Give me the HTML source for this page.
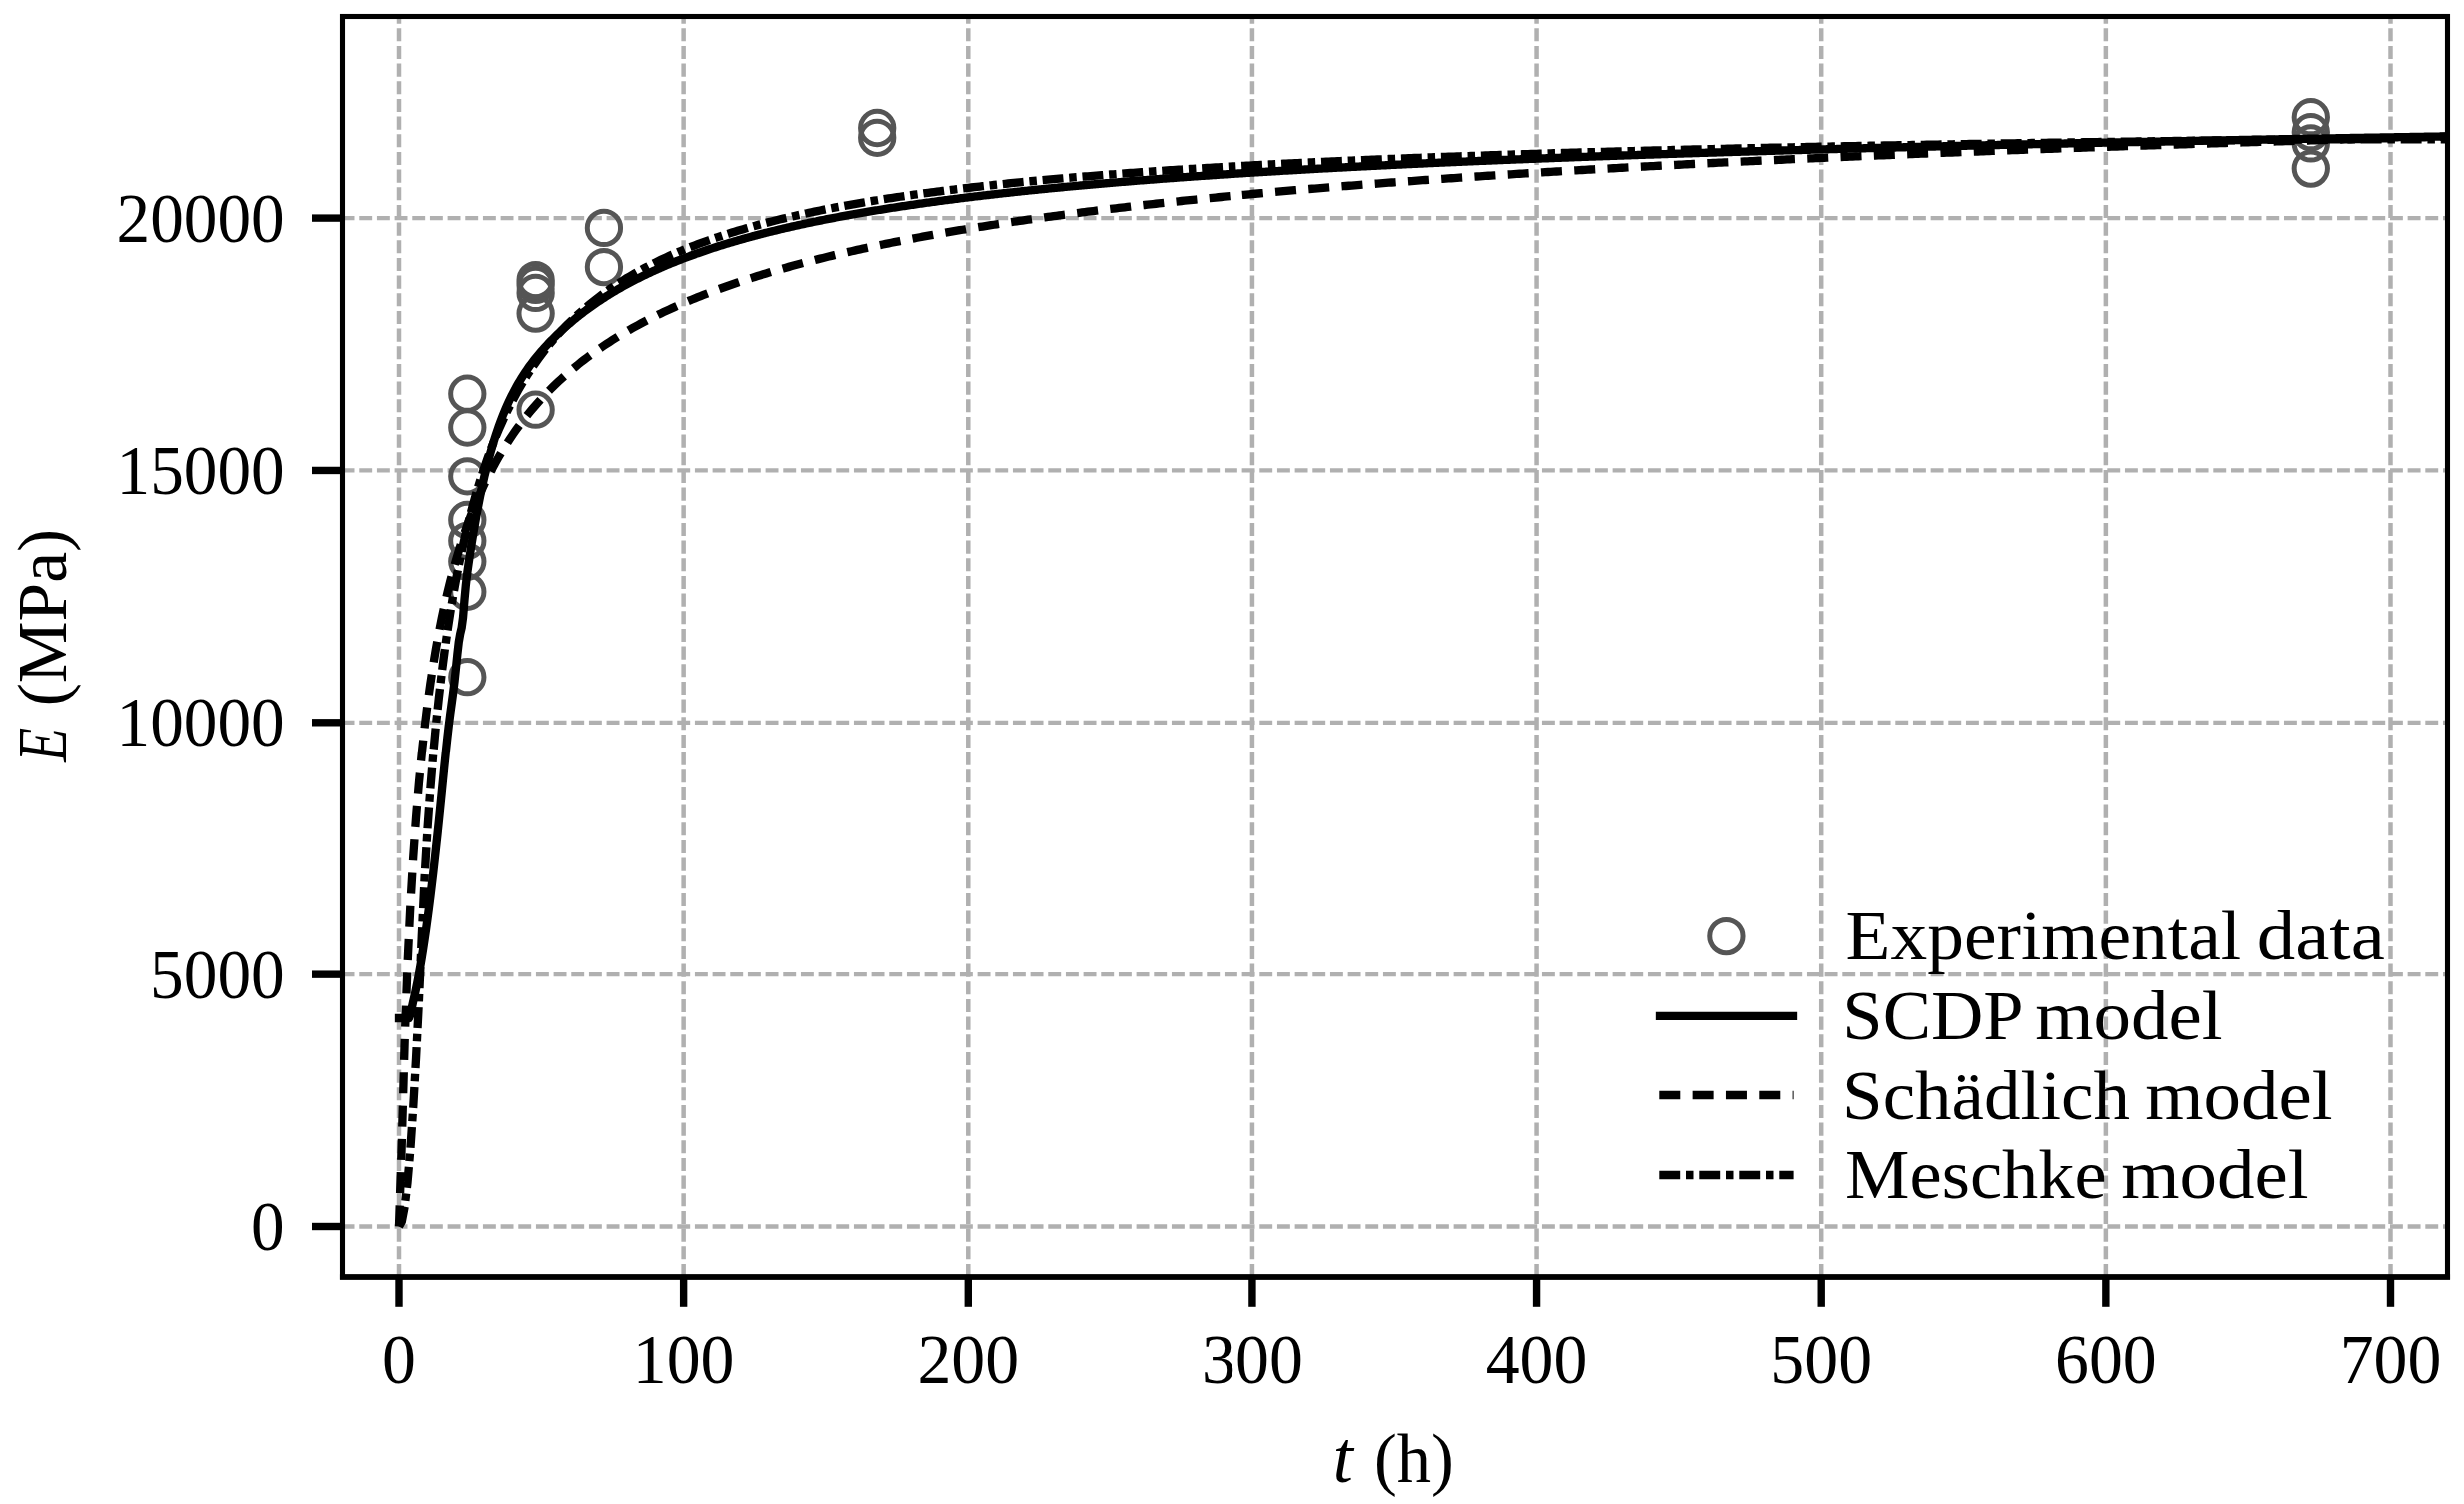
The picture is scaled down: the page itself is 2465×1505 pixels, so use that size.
<!DOCTYPE html>
<html><head><meta charset="utf-8"><title>E(t)</title>
<style>html,body{margin:0;padding:0;background:#fff}svg{display:block}text{font-family:"Liberation Serif",serif;fill:#000}</style></head><body>
<svg width="2465" height="1505" viewBox="0 0 2465 1505">
<rect width="2465" height="1505" fill="#fff"/>
<defs><clipPath id="ax"><rect x="342.5" y="16.5" width="2106.0" height="1261.5"/></clipPath></defs>
<g stroke="#b0b0b0" fill="none" clip-path="url(#ax)">
<path stroke-width="4.5" stroke-dasharray="13.1 4.567" d="M399.00 1278.0 V-3.5"/>
<path stroke-width="4.5" stroke-dasharray="13.1 4.567" d="M683.64 1278.0 V-3.5"/>
<path stroke-width="4.5" stroke-dasharray="13.1 4.567" d="M968.29 1278.0 V-3.5"/>
<path stroke-width="4.5" stroke-dasharray="13.1 4.567" d="M1252.93 1278.0 V-3.5"/>
<path stroke-width="4.5" stroke-dasharray="13.1 4.567" d="M1537.57 1278.0 V-3.5"/>
<path stroke-width="4.5" stroke-dasharray="13.1 4.567" d="M1822.21 1278.0 V-3.5"/>
<path stroke-width="4.5" stroke-dasharray="13.1 4.567" d="M2106.86 1278.0 V-3.5"/>
<path stroke-width="4.5" stroke-dasharray="13.1 4.567" d="M2391.50 1278.0 V-3.5"/>
<path stroke-width="4.3" stroke-dasharray="12.9 4.767" d="M341.6 1227.50 H2468.5"/>
<path stroke-width="4.3" stroke-dasharray="12.9 4.767" d="M341.6 975.15 H2468.5"/>
<path stroke-width="4.3" stroke-dasharray="12.9 4.767" d="M341.6 722.80 H2468.5"/>
<path stroke-width="4.3" stroke-dasharray="12.9 4.767" d="M341.6 470.45 H2468.5"/>
<path stroke-width="4.3" stroke-dasharray="12.9 4.767" d="M341.6 218.10 H2468.5"/>
</g>
<g stroke="#555555" stroke-width="5" fill="none" clip-path="url(#ax)">
<circle cx="467.31" cy="393.7" r="16.65"/>
<circle cx="467.31" cy="427.5" r="16.65"/>
<circle cx="467.31" cy="476.3" r="16.65"/>
<circle cx="467.31" cy="520.0" r="16.65"/>
<circle cx="467.31" cy="540.8" r="16.65"/>
<circle cx="467.31" cy="561.6" r="16.65"/>
<circle cx="467.31" cy="591.8" r="16.65"/>
<circle cx="467.31" cy="677.2" r="16.65"/>
<circle cx="535.63" cy="280.1" r="16.65"/>
<circle cx="535.63" cy="284.9" r="16.65"/>
<circle cx="535.63" cy="292.9" r="16.65"/>
<circle cx="535.63" cy="313.6" r="16.65"/>
<circle cx="535.63" cy="409.7" r="16.65"/>
<circle cx="603.94" cy="227.9" r="16.65"/>
<circle cx="603.94" cy="267.1" r="16.65"/>
<circle cx="877.20" cy="128.0" r="16.65"/>
<circle cx="877.20" cy="137.8" r="16.65"/>
<circle cx="2311.80" cy="117.2" r="16.65"/>
<circle cx="2311.80" cy="132.2" r="16.65"/>
<circle cx="2311.80" cy="143.4" r="16.65"/>
<circle cx="2311.80" cy="168.6" r="16.65"/>
</g>
<g stroke="#000" stroke-width="8.33" fill="none" clip-path="url(#ax)" stroke-linejoin="round">
<path id="c1" stroke-linecap="square" d="M399.00 1019.01 L400.42 1019.01 L401.85 1019.01 L403.27 1019.01 L404.69 1019.01 L406.12 1019.01 L407.54 1019.01 L408.96 1019.01 L410.39 1015.66 L411.81 1008.61 L413.23 1002.18 L414.66 995.83 L416.08 989.26 L417.50 982.30 L418.93 974.86 L420.35 966.94 L421.77 958.51 L423.19 949.59 L424.62 940.20 L426.04 930.35 L427.46 920.03 L428.89 909.24 L430.31 897.99 L431.73 886.30 L433.16 874.18 L434.58 861.65 L436.00 848.74 L437.43 835.47 L438.85 821.84 L440.27 807.90 L441.70 793.64 L443.12 779.21 L444.54 764.94 L445.97 751.11 L447.39 737.99 L448.81 725.77 L450.24 714.55 L451.66 704.11 L453.08 693.59 L454.51 681.99 L455.93 668.58 L457.35 654.55 L458.77 642.32 L460.20 633.98 L461.62 628.08 L463.04 617.67 L464.47 600.10 L465.89 584.68 L467.31 572.65 L468.74 562.54 L470.16 553.14 L471.58 544.04 L473.01 535.26 L474.43 526.80 L475.85 518.68 L477.28 510.87 L478.70 503.39 L480.12 496.21 L481.55 489.34 L482.97 482.75 L484.39 476.45 L485.82 470.43 L487.24 464.67 L488.66 459.17 L490.09 453.90 L491.51 448.87 L492.93 444.04 L494.36 439.42 L495.78 434.98 L497.20 430.73 L498.62 426.64 L500.05 422.72 L501.47 418.94 L502.89 415.31 L504.32 411.82 L505.74 408.45 L507.16 405.21 L508.59 402.08 L510.01 399.06 L511.43 396.14 L512.86 393.33 L514.28 390.60 L515.70 387.96 L517.13 385.41 L518.55 382.93 L519.97 380.53 L521.40 378.20 L522.82 375.94 L524.24 373.74 L525.67 371.61 L527.09 369.53 L528.51 367.50 L529.94 365.53 L531.36 363.60 L532.78 361.72 L534.21 359.88 L535.63 358.09 L537.05 356.33 L538.48 354.62 L539.90 352.93 L541.32 351.28 L542.74 349.66 L544.17 348.07 L545.59 346.51 L547.01 344.98 L548.44 343.47 L549.86 341.98 L551.28 340.52 L552.71 339.07 L554.13 337.65 L555.55 336.25 L556.98 334.86 L558.40 333.50 L559.82 332.15 L561.25 330.82 L562.67 329.51 L564.09 328.22 L565.52 326.95 L566.94 325.69 L568.36 324.45 L569.79 323.22 L571.21 322.01 L572.63 320.82 L574.06 319.64 L575.48 318.47 L576.90 317.32 L578.33 316.19 L579.75 315.06 L581.17 313.95 L582.59 312.86 L584.02 311.78 L585.44 310.71 L586.86 309.65 L588.29 308.61 L589.71 307.58 L591.13 306.56 L592.56 305.55 L593.98 304.55 L595.40 303.57 L596.83 302.59 L598.25 301.63 L599.67 300.68 L601.10 299.73 L602.52 298.80 L603.94 297.88 L605.37 296.97 L606.79 296.07 L608.21 295.18 L609.64 294.29 L611.06 293.42 L612.48 292.56 L613.91 291.70 L615.33 290.86 L616.75 290.02 L618.17 289.19 L619.60 288.37 L621.02 287.56 L622.44 286.75 L623.87 285.96 L625.29 285.17 L626.71 284.39 L628.14 283.62 L629.56 282.85 L630.98 282.10 L632.41 281.35 L633.83 280.60 L635.25 279.87 L636.68 279.14 L638.10 278.42 L639.52 277.70 L640.95 276.99 L642.37 276.29 L643.79 275.60 L645.22 274.91 L646.64 274.22 L648.06 273.55 L649.49 272.88 L650.91 272.21 L652.33 271.56 L653.76 270.90 L655.18 270.26 L656.60 269.62 L658.03 268.98 L659.45 268.35 L660.87 267.73 L662.29 267.11 L663.72 266.49 L665.14 265.89 L666.56 265.28 L667.99 264.69 L669.41 264.09 L670.83 263.50 L672.26 262.92 L673.68 262.34 L675.10 261.77 L676.53 261.20 L677.95 260.64 L679.37 260.08 L680.80 259.52 L682.22 258.97 L683.64 258.43 L685.07 257.89 L686.49 257.35 L687.91 256.82 L689.34 256.29 L690.76 255.76 L692.18 255.24 L693.61 254.72 L695.03 254.21 L696.45 253.70 L697.88 253.20 L699.30 252.70 L700.72 252.20 L702.14 251.71 L703.57 251.22 L704.99 250.73 L706.41 250.25 L707.84 249.77 L709.26 249.30 L710.68 248.83 L712.11 248.36 L713.53 247.89 L714.95 247.43 L716.38 246.97 L717.80 246.52 L719.22 246.07 L720.65 245.62 L722.07 245.18 L723.49 244.73 L724.92 244.30 L726.34 243.86 L727.76 243.43 L729.19 243.00 L730.61 242.57 L732.03 242.15 L733.46 241.73 L734.88 241.31 L736.30 240.90 L737.73 240.48 L739.15 240.08 L740.57 239.67 L741.99 239.27 L743.42 238.87 L744.84 238.47 L746.26 238.07 L747.69 237.68 L749.11 237.29 L750.53 236.90 L751.96 236.52 L753.38 236.13 L754.80 235.75 L756.23 235.38 L757.65 235.00 L759.07 234.63 L760.50 234.26 L761.92 233.89 L763.34 233.52 L764.77 233.16 L766.19 232.80 L767.61 232.44 L769.04 232.08 L770.46 231.73 L771.88 231.38 L773.31 231.03 L774.73 230.68 L776.15 230.34 L777.58 229.99 L779.00 229.65 L780.42 229.31 L781.84 228.97 L783.27 228.64 L784.69 228.31 L786.11 227.98 L787.54 227.65 L788.96 227.32 L790.38 226.99 L791.81 226.67 L793.23 226.35 L794.65 226.03 L796.08 225.71 L797.50 225.40 L798.92 225.08 L800.35 224.77 L801.77 224.46 L803.19 224.15 L804.62 223.85 L806.04 223.54 L807.46 223.24 L808.89 222.94 L810.31 222.64 L811.73 222.34 L813.16 222.04 L814.58 221.75 L816.00 221.46 L817.42 221.17 L818.85 220.88 L820.27 220.59 L821.69 220.30 L823.12 220.02 L824.54 219.73 L825.96 219.45 L827.39 219.17 L828.81 218.89 L830.23 218.62 L831.66 218.34 L833.08 218.07 L834.50 217.79 L835.93 217.52 L837.35 217.25 L838.77 216.98 L840.20 216.72 L841.62 216.45 L843.04 216.19 L844.47 215.93 L845.89 215.66 L847.31 215.40 L848.74 215.15 L850.16 214.89 L851.58 214.63 L853.01 214.38 L854.43 214.12 L855.85 213.87 L857.28 213.62 L858.70 213.37 L860.12 213.13 L861.54 212.88 L862.97 212.63 L864.39 212.39 L865.81 212.15 L867.24 211.90 L868.66 211.66 L870.08 211.42 L871.51 211.19 L872.93 210.95 L874.35 210.71 L875.78 210.48 L877.20 210.24 L878.62 210.01 L880.05 209.78 L881.47 209.55 L882.89 209.32 L884.32 209.09 L885.74 208.87 L887.16 208.64 L888.59 208.42 L890.01 208.19 L891.43 207.97 L892.86 207.75 L894.28 207.53 L895.70 207.31 L897.12 207.09 L898.55 206.88 L899.97 206.66 L901.39 206.44 L902.82 206.23 L904.24 206.02 L905.66 205.80 L907.09 205.59 L908.51 205.38 L909.93 205.17 L911.36 204.97 L912.78 204.76 L914.20 204.55 L915.63 204.35 L917.05 204.14 L918.47 203.94 L919.90 203.74 L921.32 203.54 L922.74 203.33 L924.17 203.13 L925.59 202.94 L927.01 202.74 L928.44 202.54 L929.86 202.34 L931.28 202.15 L932.71 201.95 L934.13 201.76 L935.55 201.57 L936.98 201.38 L938.40 201.19 L939.82 200.99 L941.24 200.81 L942.67 200.62 L944.09 200.43 L945.51 200.24 L946.94 200.06 L948.36 199.87 L949.78 199.69 L951.21 199.50 L952.63 199.32 L954.05 199.14 L955.48 198.96 L956.90 198.78 L958.32 198.60 L959.75 198.42 L961.17 198.24 L962.59 198.06 L964.02 197.88 L965.44 197.71 L966.86 197.53 L968.29 197.36 L969.71 197.18 L971.13 197.01 L972.56 196.84 L973.98 196.67 L975.40 196.49 L976.83 196.32 L978.25 196.15 L979.67 195.99 L981.09 195.82 L982.52 195.65 L983.94 195.48 L985.36 195.32 L986.79 195.15 L988.21 194.99 L989.63 194.82 L991.06 194.66 L992.48 194.50 L993.90 194.33 L995.33 194.17 L996.75 194.01 L998.17 193.85 L999.60 193.69 L1001.02 193.53 L1002.44 193.37 L1003.87 193.22 L1005.29 193.06 L1006.71 192.90 L1008.14 192.75 L1009.56 192.59 L1010.98 192.44 L1012.41 192.28 L1013.83 192.13 L1015.25 191.97 L1016.68 191.82 L1018.10 191.67 L1019.52 191.52 L1020.94 191.37 L1022.37 191.22 L1023.79 191.07 L1025.21 190.92 L1026.64 190.77 L1028.06 190.62 L1029.48 190.48 L1030.91 190.33 L1032.33 190.18 L1033.75 190.04 L1035.18 189.89 L1036.60 189.75 L1038.02 189.60 L1039.45 189.46 L1040.87 189.32 L1042.29 189.18 L1043.72 189.03 L1045.14 188.89 L1046.56 188.75 L1047.99 188.61 L1049.41 188.47 L1050.83 188.33 L1052.26 188.19 L1053.68 188.06 L1055.10 187.92 L1056.53 187.78 L1057.95 187.64 L1059.37 187.51 L1060.79 187.37 L1062.22 187.24 L1063.64 187.10 L1065.06 186.97 L1066.49 186.83 L1067.91 186.70 L1069.33 186.57 L1070.76 186.43 L1072.18 186.30 L1073.60 186.17 L1075.03 186.04 L1076.45 185.91 L1077.87 185.78 L1079.30 185.65 L1080.72 185.52 L1082.14 185.39 L1083.57 185.26 L1084.99 185.14 L1086.41 185.01 L1087.84 184.88 L1089.26 184.76 L1090.68 184.63 L1092.11 184.50 L1093.53 184.38 L1094.95 184.25 L1096.38 184.13 L1097.80 184.00 L1099.22 183.88 L1100.64 183.76 L1102.07 183.64 L1103.49 183.51 L1104.91 183.39 L1106.34 183.27 L1107.76 183.15 L1109.18 183.03 L1110.61 182.91 L1112.03 182.79 L1113.45 182.67 L1114.88 182.55 L1116.30 182.43 L1117.72 182.31 L1119.15 182.19 L1120.57 182.08 L1121.99 181.96 L1123.42 181.84 L1124.84 181.73 L1126.26 181.61 L1127.69 181.50 L1129.11 181.38 L1130.53 181.27 L1131.96 181.15 L1133.38 181.04 L1134.80 180.92 L1136.22 180.81 L1137.65 180.70 L1139.07 180.58 L1140.49 180.47 L1141.92 180.36 L1143.34 180.25 L1144.76 180.14 L1146.19 180.03 L1147.61 179.92 L1149.03 179.81 L1150.46 179.70 L1151.88 179.59 L1153.30 179.48 L1154.73 179.37 L1156.15 179.26 L1157.57 179.15 L1159.00 179.05 L1160.42 178.94 L1161.84 178.83 L1163.27 178.72 L1164.69 178.62 L1166.11 178.51 L1167.54 178.41 L1168.96 178.30 L1170.38 178.20 L1171.81 178.09 L1173.23 177.99 L1174.65 177.88 L1176.08 177.78 L1177.50 177.67 L1178.92 177.57 L1180.34 177.47 L1181.77 177.37 L1183.19 177.26 L1184.61 177.16 L1186.04 177.06 L1187.46 176.96 L1188.88 176.86 L1190.31 176.76 L1191.73 176.66 L1193.15 176.56 L1194.58 176.46 L1196.00 176.36 L1197.42 176.26 L1198.85 176.16 L1200.27 176.06 L1201.69 175.96 L1203.12 175.86 L1204.54 175.77 L1205.96 175.67 L1207.39 175.57 L1208.81 175.48 L1210.23 175.38 L1211.66 175.28 L1213.08 175.19 L1214.50 175.09 L1215.93 174.99 L1217.35 174.90 L1218.77 174.80 L1220.19 174.71 L1221.62 174.62 L1223.04 174.52 L1224.46 174.43 L1225.89 174.33 L1227.31 174.24 L1228.73 174.15 L1230.16 174.06 L1231.58 173.96 L1233.00 173.87 L1234.43 173.78 L1235.85 173.69 L1237.27 173.60 L1238.70 173.50 L1240.12 173.41 L1241.54 173.32 L1242.97 173.23 L1244.39 173.14 L1245.81 173.05 L1247.24 172.96 L1248.66 172.87 L1250.08 172.78 L1251.51 172.69 L1252.93 172.61 L1254.35 172.52 L1255.78 172.43 L1257.20 172.34 L1258.62 172.25 L1260.04 172.17 L1261.47 172.08 L1262.89 171.99 L1264.31 171.90 L1265.74 171.82 L1267.16 171.73 L1268.58 171.65 L1270.01 171.56 L1271.43 171.47 L1272.85 171.39 L1274.28 171.30 L1275.70 171.22 L1277.12 171.13 L1278.55 171.05 L1279.97 170.97 L1281.39 170.88 L1282.82 170.80 L1284.24 170.71 L1285.66 170.63 L1287.09 170.55 L1288.51 170.47 L1289.93 170.38 L1291.36 170.30 L1292.78 170.22 L1294.20 170.14 L1295.62 170.05 L1297.05 169.97 L1298.47 169.89 L1299.89 169.81 L1301.32 169.73 L1302.74 169.65 L1304.16 169.57 L1305.59 169.49 L1307.01 169.41 L1308.43 169.33 L1309.86 169.25 L1311.28 169.17 L1312.70 169.09 L1314.13 169.01 L1315.55 168.93 L1316.97 168.85 L1318.40 168.77 L1319.82 168.70 L1321.24 168.62 L1322.67 168.54 L1324.09 168.46 L1325.51 168.38 L1326.94 168.31 L1328.36 168.23 L1329.78 168.15 L1331.21 168.08 L1332.63 168.00 L1334.05 167.92 L1335.47 167.85 L1336.90 167.77 L1338.32 167.70 L1339.74 167.62 L1341.17 167.55 L1342.59 167.47 L1344.01 167.39 L1345.44 167.32 L1346.86 167.25 L1348.28 167.17 L1349.71 167.10 L1351.13 167.02 L1352.55 166.95 L1353.98 166.88 L1355.40 166.80 L1356.82 166.73 L1358.25 166.66 L1359.67 166.58 L1361.09 166.51 L1362.52 166.44 L1363.94 166.36 L1365.36 166.29 L1366.79 166.22 L1368.21 166.15 L1369.63 166.08 L1371.06 166.00 L1372.48 165.93 L1373.90 165.86 L1375.33 165.79 L1376.75 165.72 L1378.17 165.65 L1379.59 165.58 L1381.02 165.51 L1382.44 165.44 L1383.86 165.37 L1385.29 165.30 L1386.71 165.23 L1388.13 165.16 L1389.56 165.09 L1390.98 165.02 L1392.40 164.95 L1393.83 164.88 L1395.25 164.81 L1396.67 164.75 L1398.10 164.68 L1399.52 164.61 L1400.94 164.54 L1402.37 164.47 L1403.79 164.40 L1405.21 164.34 L1406.64 164.27 L1408.06 164.20 L1409.48 164.14 L1410.91 164.07 L1412.33 164.00 L1413.75 163.93 L1415.18 163.87 L1416.60 163.80 L1418.02 163.74 L1419.44 163.67 L1420.87 163.60 L1422.29 163.54 L1423.71 163.47 L1425.14 163.41 L1426.56 163.34 L1427.98 163.28 L1429.41 163.21 L1430.83 163.15 L1432.25 163.08 L1433.68 163.02 L1435.10 162.95 L1436.52 162.89 L1437.95 162.82 L1439.37 162.76 L1440.79 162.70 L1442.22 162.63 L1443.64 162.57 L1445.06 162.51 L1446.49 162.44 L1447.91 162.38 L1449.33 162.32 L1450.76 162.25 L1452.18 162.19 L1453.60 162.13 L1455.03 162.07 L1456.45 162.00 L1457.87 161.94 L1459.29 161.88 L1460.72 161.82 L1462.14 161.75 L1463.56 161.69 L1464.99 161.63 L1466.41 161.57 L1467.83 161.51 L1469.26 161.45 L1470.68 161.39 L1472.10 161.33 L1473.53 161.27 L1474.95 161.20 L1476.37 161.14 L1477.80 161.08 L1479.22 161.02 L1480.64 160.96 L1482.07 160.90 L1483.49 160.84 L1484.91 160.78 L1486.34 160.72 L1487.76 160.66 L1489.18 160.61 L1490.61 160.55 L1492.03 160.49 L1493.45 160.43 L1494.88 160.37 L1496.30 160.31 L1497.72 160.25 L1499.14 160.19 L1500.57 160.14 L1501.99 160.08 L1503.41 160.02 L1504.84 159.96 L1506.26 159.90 L1507.68 159.85 L1509.11 159.79 L1510.53 159.73 L1511.95 159.67 L1513.38 159.62 L1514.80 159.56 L1516.22 159.50 L1517.65 159.44 L1519.07 159.39 L1520.49 159.33 L1521.92 159.27 L1523.34 159.22 L1524.76 159.16 L1526.19 159.11 L1527.61 159.05 L1529.03 158.99 L1530.46 158.94 L1531.88 158.88 L1533.30 158.83 L1534.73 158.77 L1536.15 158.72 L1537.57 158.66 L1538.99 158.61 L1540.42 158.55 L1541.84 158.50 L1543.26 158.44 L1544.69 158.39 L1546.11 158.33 L1547.53 158.28 L1548.96 158.22 L1550.38 158.17 L1551.80 158.11 L1553.23 158.06 L1554.65 158.01 L1556.07 157.95 L1557.50 157.90 L1558.92 157.84 L1560.34 157.79 L1561.77 157.74 L1563.19 157.68 L1564.61 157.63 L1566.04 157.58 L1567.46 157.52 L1568.88 157.47 L1570.31 157.42 L1571.73 157.37 L1573.15 157.31 L1574.58 157.26 L1576.00 157.21 L1577.42 157.16 L1578.84 157.10 L1580.27 157.05 L1581.69 157.00 L1583.11 156.95 L1584.54 156.90 L1585.96 156.84 L1587.38 156.79 L1588.81 156.74 L1590.23 156.69 L1591.65 156.64 L1593.08 156.59 L1594.50 156.54 L1595.92 156.48 L1597.35 156.43 L1598.77 156.38 L1600.19 156.33 L1601.62 156.28 L1603.04 156.23 L1604.46 156.18 L1605.89 156.13 L1607.31 156.08 L1608.73 156.03 L1610.16 155.98 L1611.58 155.93 L1613.00 155.88 L1614.42 155.83 L1615.85 155.78 L1617.27 155.73 L1618.69 155.68 L1620.12 155.63 L1621.54 155.58 L1622.96 155.53 L1624.39 155.48 L1625.81 155.44 L1627.23 155.39 L1628.66 155.34 L1630.08 155.29 L1631.50 155.24 L1632.93 155.19 L1634.35 155.14 L1635.77 155.09 L1637.20 155.05 L1638.62 155.00 L1640.04 154.95 L1641.47 154.90 L1642.89 154.85 L1644.31 154.81 L1645.74 154.76 L1647.16 154.71 L1648.58 154.66 L1650.01 154.61 L1651.43 154.57 L1652.85 154.52 L1654.28 154.47 L1655.70 154.43 L1657.12 154.38 L1658.54 154.33 L1659.97 154.28 L1661.39 154.24 L1662.81 154.19 L1664.24 154.14 L1665.66 154.10 L1667.08 154.05 L1668.51 154.00 L1669.93 153.96 L1671.35 153.91 L1672.78 153.87 L1674.20 153.82 L1675.62 153.77 L1677.05 153.73 L1678.47 153.68 L1679.89 153.64 L1681.32 153.59 L1682.74 153.54 L1684.16 153.50 L1685.59 153.45 L1687.01 153.41 L1688.43 153.36 L1689.86 153.32 L1691.28 153.27 L1692.70 153.23 L1694.12 153.18 L1695.55 153.14 L1696.97 153.09 L1698.39 153.05 L1699.82 153.00 L1701.24 152.96 L1702.66 152.91 L1704.09 152.87 L1705.51 152.82 L1706.93 152.78 L1708.36 152.74 L1709.78 152.69 L1711.20 152.65 L1712.63 152.60 L1714.05 152.56 L1715.47 152.52 L1716.90 152.47 L1718.32 152.43 L1719.74 152.38 L1721.17 152.34 L1722.59 152.30 L1724.01 152.25 L1725.44 152.21 L1726.86 152.17 L1728.28 152.12 L1729.71 152.08 L1731.13 152.04 L1732.55 151.99 L1733.98 151.95 L1735.40 151.91 L1736.82 151.87 L1738.24 151.82 L1739.67 151.78 L1741.09 151.74 L1742.51 151.70 L1743.94 151.65 L1745.36 151.61 L1746.78 151.57 L1748.21 151.53 L1749.63 151.48 L1751.05 151.44 L1752.48 151.40 L1753.90 151.36 L1755.32 151.32 L1756.75 151.27 L1758.17 151.23 L1759.59 151.19 L1761.02 151.15 L1762.44 151.11 L1763.86 151.07 L1765.29 151.02 L1766.71 150.98 L1768.13 150.94 L1769.56 150.90 L1770.98 150.86 L1772.40 150.82 L1773.83 150.78 L1775.25 150.74 L1776.67 150.70 L1778.09 150.66 L1779.52 150.61 L1780.94 150.57 L1782.36 150.53 L1783.79 150.49 L1785.21 150.45 L1786.63 150.41 L1788.06 150.37 L1789.48 150.33 L1790.90 150.29 L1792.33 150.25 L1793.75 150.21 L1795.17 150.17 L1796.60 150.13 L1798.02 150.09 L1799.44 150.05 L1800.87 150.01 L1802.29 149.97 L1803.71 149.93 L1805.14 149.89 L1806.56 149.85 L1807.98 149.81 L1809.41 149.77 L1810.83 149.73 L1812.25 149.69 L1813.67 149.66 L1815.10 149.62 L1816.52 149.58 L1817.94 149.54 L1819.37 149.50 L1820.79 149.46 L1822.21 149.42 L1823.64 149.38 L1825.06 149.34 L1826.48 149.30 L1827.91 149.27 L1829.33 149.23 L1830.75 149.19 L1832.18 149.15 L1833.60 149.11 L1835.02 149.07 L1836.45 149.04 L1837.87 149.00 L1839.29 148.96 L1840.72 148.92 L1842.14 148.88 L1843.56 148.85 L1844.99 148.81 L1846.41 148.77 L1847.83 148.73 L1849.26 148.69 L1850.68 148.66 L1852.10 148.62 L1853.53 148.58 L1854.95 148.54 L1856.37 148.51 L1857.79 148.47 L1859.22 148.43 L1860.64 148.39 L1862.06 148.36 L1863.49 148.32 L1864.91 148.28 L1866.33 148.24 L1867.76 148.21 L1869.18 148.17 L1870.60 148.13 L1872.03 148.10 L1873.45 148.06 L1874.87 148.02 L1876.30 147.99 L1877.72 147.95 L1879.14 147.91 L1880.57 147.88 L1881.99 147.84 L1883.41 147.80 L1884.84 147.77 L1886.26 147.73 L1887.68 147.69 L1889.11 147.66 L1890.53 147.62 L1891.95 147.59 L1893.38 147.55 L1894.80 147.51 L1896.22 147.48 L1897.64 147.44 L1899.07 147.41 L1900.49 147.37 L1901.91 147.33 L1903.34 147.30 L1904.76 147.26 L1906.18 147.23 L1907.61 147.19 L1909.03 147.16 L1910.45 147.12 L1911.88 147.09 L1913.30 147.05 L1914.72 147.01 L1916.15 146.98 L1917.57 146.94 L1918.99 146.91 L1920.42 146.87 L1921.84 146.84 L1923.26 146.80 L1924.69 146.77 L1926.11 146.73 L1927.53 146.70 L1928.96 146.66 L1930.38 146.63 L1931.80 146.59 L1933.23 146.56 L1934.65 146.53 L1936.07 146.49 L1937.49 146.46 L1938.92 146.42 L1940.34 146.39 L1941.76 146.35 L1943.19 146.32 L1944.61 146.28 L1946.03 146.25 L1947.46 146.22 L1948.88 146.18 L1950.30 146.15 L1951.73 146.11 L1953.15 146.08 L1954.57 146.05 L1956.00 146.01 L1957.42 145.98 L1958.84 145.94 L1960.27 145.91 L1961.69 145.88 L1963.11 145.84 L1964.54 145.81 L1965.96 145.78 L1967.38 145.74 L1968.81 145.71 L1970.23 145.67 L1971.65 145.64 L1973.08 145.61 L1974.50 145.57 L1975.92 145.54 L1977.34 145.51 L1978.77 145.47 L1980.19 145.44 L1981.61 145.41 L1983.04 145.38 L1984.46 145.34 L1985.88 145.31 L1987.31 145.28 L1988.73 145.24 L1990.15 145.21 L1991.58 145.18 L1993.00 145.15 L1994.42 145.11 L1995.85 145.08 L1997.27 145.05 L1998.69 145.01 L2000.12 144.98 L2001.54 144.95 L2002.96 144.92 L2004.39 144.88 L2005.81 144.85 L2007.23 144.82 L2008.66 144.79 L2010.08 144.76 L2011.50 144.72 L2012.92 144.69 L2014.35 144.66 L2015.77 144.63 L2017.19 144.59 L2018.62 144.56 L2020.04 144.53 L2021.46 144.50 L2022.89 144.47 L2024.31 144.43 L2025.73 144.40 L2027.16 144.37 L2028.58 144.34 L2030.00 144.31 L2031.43 144.28 L2032.85 144.24 L2034.27 144.21 L2035.70 144.18 L2037.12 144.15 L2038.54 144.12 L2039.97 144.09 L2041.39 144.06 L2042.81 144.02 L2044.24 143.99 L2045.66 143.96 L2047.08 143.93 L2048.51 143.90 L2049.93 143.87 L2051.35 143.84 L2052.78 143.81 L2054.20 143.78 L2055.62 143.74 L2057.04 143.71 L2058.47 143.68 L2059.89 143.65 L2061.31 143.62 L2062.74 143.59 L2064.16 143.56 L2065.58 143.53 L2067.01 143.50 L2068.43 143.47 L2069.85 143.44 L2071.28 143.41 L2072.70 143.38 L2074.12 143.35 L2075.55 143.32 L2076.97 143.28 L2078.39 143.25 L2079.82 143.22 L2081.24 143.19 L2082.66 143.16 L2084.09 143.13 L2085.51 143.10 L2086.93 143.07 L2088.36 143.04 L2089.78 143.01 L2091.20 142.98 L2092.62 142.95 L2094.05 142.92 L2095.47 142.89 L2096.89 142.86 L2098.32 142.83 L2099.74 142.80 L2101.16 142.77 L2102.59 142.74 L2104.01 142.71 L2105.43 142.68 L2106.86 142.66 L2108.28 142.63 L2109.70 142.60 L2111.13 142.57 L2112.55 142.54 L2113.97 142.51 L2115.40 142.48 L2116.82 142.45 L2118.24 142.42 L2119.67 142.39 L2121.09 142.36 L2122.51 142.33 L2123.94 142.30 L2125.36 142.27 L2126.78 142.24 L2128.21 142.22 L2129.63 142.19 L2131.05 142.16 L2132.48 142.13 L2133.90 142.10 L2135.32 142.07 L2136.74 142.04 L2138.17 142.01 L2139.59 141.98 L2141.01 141.95 L2142.44 141.93 L2143.86 141.90 L2145.28 141.87 L2146.71 141.84 L2148.13 141.81 L2149.55 141.78 L2150.98 141.75 L2152.40 141.73 L2153.82 141.70 L2155.25 141.67 L2156.67 141.64 L2158.09 141.61 L2159.52 141.58 L2160.94 141.56 L2162.36 141.53 L2163.79 141.50 L2165.21 141.47 L2166.63 141.44 L2168.06 141.41 L2169.48 141.39 L2170.90 141.36 L2172.32 141.33 L2173.75 141.30 L2175.17 141.27 L2176.59 141.25 L2178.02 141.22 L2179.44 141.19 L2180.86 141.16 L2182.29 141.13 L2183.71 141.11 L2185.13 141.08 L2186.56 141.05 L2187.98 141.02 L2189.40 141.00 L2190.83 140.97 L2192.25 140.94 L2193.67 140.91 L2195.10 140.88 L2196.52 140.86 L2197.94 140.83 L2199.37 140.80 L2200.79 140.77 L2202.21 140.75 L2203.64 140.72 L2205.06 140.69 L2206.48 140.67 L2207.91 140.64 L2209.33 140.61 L2210.75 140.58 L2212.18 140.56 L2213.60 140.53 L2215.02 140.50 L2216.44 140.47 L2217.87 140.45 L2219.29 140.42 L2220.71 140.39 L2222.14 140.37 L2223.56 140.34 L2224.98 140.31 L2226.41 140.29 L2227.83 140.26 L2229.25 140.23 L2230.68 140.21 L2232.10 140.18 L2233.52 140.15 L2234.95 140.13 L2236.37 140.10 L2237.79 140.07 L2239.22 140.05 L2240.64 140.02 L2242.06 139.99 L2243.49 139.97 L2244.91 139.94 L2246.33 139.91 L2247.76 139.89 L2249.18 139.86 L2250.60 139.83 L2252.03 139.81 L2253.45 139.78 L2254.87 139.75 L2256.29 139.73 L2257.72 139.70 L2259.14 139.68 L2260.56 139.65 L2261.99 139.62 L2263.41 139.60 L2264.83 139.57 L2266.26 139.54 L2267.68 139.52 L2269.10 139.49 L2270.53 139.47 L2271.95 139.44 L2273.37 139.41 L2274.80 139.39 L2276.22 139.36 L2277.64 139.34 L2279.07 139.31 L2280.49 139.28 L2281.91 139.26 L2283.34 139.23 L2284.76 139.21 L2286.18 139.18 L2287.61 139.16 L2289.03 139.13 L2290.45 139.10 L2291.88 139.08 L2293.30 139.05 L2294.72 139.03 L2296.14 139.00 L2297.57 138.98 L2298.99 138.95 L2300.41 138.93 L2301.84 138.90 L2303.26 138.87 L2304.68 138.85 L2306.11 138.82 L2307.53 138.80 L2308.95 138.77 L2310.38 138.75 L2311.80 138.72 L2313.22 138.70 L2314.65 138.67 L2316.07 138.65 L2317.49 138.62 L2318.92 138.60 L2320.34 138.57 L2321.76 138.55 L2323.19 138.52 L2324.61 138.50 L2326.03 138.47 L2327.46 138.45 L2328.88 138.42 L2330.30 138.40 L2331.73 138.37 L2333.15 138.35 L2334.57 138.32 L2335.99 138.30 L2337.42 138.27 L2338.84 138.25 L2340.26 138.22 L2341.69 138.20 L2343.11 138.17 L2344.53 138.15 L2345.96 138.12 L2347.38 138.10 L2348.80 138.08 L2350.23 138.05 L2351.65 138.03 L2353.07 138.00 L2354.50 137.98 L2355.92 137.95 L2357.34 137.93 L2358.77 137.90 L2360.19 137.88 L2361.61 137.85 L2363.04 137.83 L2364.46 137.81 L2365.88 137.78 L2367.31 137.76 L2368.73 137.73 L2370.15 137.71 L2371.57 137.68 L2373.00 137.66 L2374.42 137.64 L2375.84 137.61 L2377.27 137.59 L2378.69 137.56 L2380.11 137.54 L2381.54 137.52 L2382.96 137.49 L2384.38 137.47 L2385.81 137.44 L2387.23 137.42 L2388.65 137.40 L2390.08 137.37 L2391.50 137.35 L2392.92 137.32 L2394.35 137.30 L2395.77 137.28 L2397.19 137.25 L2398.62 137.23 L2400.04 137.21 L2401.46 137.18 L2402.89 137.16 L2404.31 137.13 L2405.73 137.11 L2407.16 137.09 L2408.58 137.06 L2410.00 137.04 L2411.43 137.02 L2412.85 136.99 L2414.27 136.97 L2415.69 136.95 L2417.12 136.92 L2418.54 136.90 L2419.96 136.87 L2421.39 136.85 L2422.81 136.83 L2424.23 136.80 L2425.66 136.78 L2427.08 136.76 L2428.50 136.73 L2429.93 136.71 L2431.35 136.69 L2432.77 136.66 L2434.20 136.64 L2435.62 136.62 L2437.04 136.60 L2438.47 136.57 L2439.89 136.55 L2441.31 136.53 L2442.74 136.50 L2444.16 136.48 L2445.58 136.46 L2447.01 136.43 L2448.43 136.41 L2449.85 136.39 L2451.28 136.36 L2452.70 136.34 L2454.12 136.32 L2455.54 136.30 L2456.97 136.27 L2458.39 136.25 L2459.81 136.23 L2461.24 136.20 L2462.66 136.18 L2464.08 136.16 L2465.51 136.14 L2466.93 136.11 L2468.35 136.09 L2469.78 136.07 L2471.20 136.04 L2472.62 136.02 L2474.05 136.00 L2475.47 135.98 L2476.89 135.95 L2478.32 135.93 L2479.74 135.91 L2481.16 135.89 L2482.59 135.86 L2484.01 135.84 L2485.43 135.82 L2486.86 135.80 L2488.28 135.77 L2489.70 135.75 L2491.12 135.73 L2492.55 135.71 L2493.97 135.68 L2495.39 135.66 L2496.82 135.64 L2498.24 135.62 L2499.66 135.60 L2501.09 135.57 L2502.51 135.55 L2503.93 135.53 L2505.36 135.51 L2506.78 135.48"/>
<path id="c2" stroke-dasharray="21.0 12.33" stroke-dashoffset="0" d="M399.00 1227.50 L401.85 1141.52 L404.69 1041.26 L407.54 965.21 L410.39 905.82 L413.23 857.74 L416.08 817.69 L418.93 783.59 L421.77 754.06 L424.62 728.11 L427.46 705.05 L430.31 684.36 L433.16 665.65 L436.00 648.60 L438.85 632.98 L441.70 618.59 L444.54 605.27 L447.39 592.89 L450.24 581.35 L453.08 570.54 L455.93 560.39 L458.77 550.83 L461.62 541.82 L464.47 533.28 L467.31 525.19 L470.16 517.51 L473.01 510.19 L475.85 503.22 L478.70 496.56 L481.55 490.19 L484.39 484.10 L487.24 478.25 L490.09 472.64 L492.93 467.24 L495.78 462.05 L498.62 457.05 L501.47 452.22 L504.32 447.57 L507.16 443.08 L510.01 438.73 L512.86 434.53 L515.70 430.46 L518.55 426.51 L521.40 422.69 L524.24 418.98 L527.09 415.38 L529.94 411.88 L532.78 408.48 L535.63 405.17 L538.48 401.95 L541.32 398.82 L544.17 395.76 L547.01 392.79 L549.86 389.89 L552.71 387.06 L555.55 384.30 L558.40 381.60 L561.25 378.97 L564.09 376.40 L566.94 373.88 L569.79 371.43 L572.63 369.02 L575.48 366.67 L578.33 364.37 L581.17 362.11 L584.02 359.91 L586.86 357.75 L589.71 355.63 L592.56 353.55 L595.40 351.51 L598.25 349.52 L601.10 347.56 L603.94 345.63 L606.79 343.75 L609.64 341.89 L612.48 340.08 L615.33 338.29 L618.17 336.53 L621.02 334.81 L623.87 333.11 L626.71 331.45 L629.56 329.81 L632.41 328.20 L635.25 326.61 L638.10 325.05 L640.95 323.52 L643.79 322.01 L646.64 320.52 L649.49 319.06 L652.33 317.62 L655.18 316.20 L658.03 314.80 L660.87 313.42 L663.72 312.07 L666.56 310.73 L669.41 309.41 L672.26 308.11 L675.10 306.83 L677.95 305.57 L680.80 304.32 L683.64 303.10 L686.49 301.89 L689.34 300.69 L692.18 299.51 L695.03 298.35 L697.88 297.20 L700.72 296.07 L703.57 294.95 L706.41 293.84 L709.26 292.75 L712.11 291.67 L714.95 290.61 L717.80 289.56 L720.65 288.52 L723.49 287.50 L726.34 286.48 L729.19 285.48 L732.03 284.49 L734.88 283.52 L737.73 282.55 L740.57 281.60 L743.42 280.65 L746.26 279.72 L749.11 278.80 L751.96 277.88 L754.80 276.98 L757.65 276.09 L760.50 275.21 L763.34 274.33 L766.19 273.47 L769.04 272.61 L771.88 271.77 L774.73 270.93 L777.58 270.10 L780.42 269.28 L783.27 268.47 L786.11 267.67 L788.96 266.88 L791.81 266.09 L794.65 265.31 L797.50 264.54 L800.35 263.78 L803.19 263.02 L806.04 262.27 L808.89 261.53 L811.73 260.80 L814.58 260.07 L817.42 259.35 L820.27 258.64 L823.12 257.93 L825.96 257.23 L828.81 256.54 L831.66 255.85 L834.50 255.17 L837.35 254.49 L840.20 253.82 L843.04 253.16 L845.89 252.50 L848.74 251.85 L851.58 251.21 L854.43 250.57 L857.28 249.93 L860.12 249.31 L862.97 248.68 L865.81 248.06 L868.66 247.45 L871.51 246.84 L874.35 246.24 L877.20 245.64 L880.05 245.05 L882.89 244.46 L885.74 243.88 L888.59 243.30 L891.43 242.73 L894.28 242.16 L897.12 241.60 L899.97 241.04 L902.82 240.48 L905.66 239.93 L908.51 239.38 L911.36 238.84 L914.20 238.30 L917.05 237.77 L919.90 237.24 L922.74 236.71 L925.59 236.19 L928.44 235.68 L931.28 235.16 L934.13 234.65 L936.98 234.14 L939.82 233.64 L942.67 233.14 L945.51 232.65 L948.36 232.16 L951.21 231.67 L954.05 231.18 L956.90 230.70 L959.75 230.23 L962.59 229.75 L965.44 229.28 L968.29 228.81 L971.13 228.35 L973.98 227.89 L976.83 227.43 L979.67 226.97 L982.52 226.52 L985.36 226.07 L988.21 225.63 L991.06 225.19 L993.90 224.75 L996.75 224.31 L999.60 223.88 L1002.44 223.45 L1005.29 223.02 L1008.14 222.59 L1010.98 222.17 L1013.83 221.75 L1016.68 221.34 L1019.52 220.92 L1022.37 220.51 L1025.21 220.10 L1028.06 219.70 L1030.91 219.29 L1033.75 218.89 L1036.60 218.49 L1039.45 218.10 L1042.29 217.70 L1045.14 217.31 L1047.99 216.92 L1050.83 216.54 L1053.68 216.15 L1056.53 215.77 L1059.37 215.39 L1062.22 215.02 L1065.06 214.64 L1067.91 214.27 L1070.76 213.90 L1073.60 213.53 L1076.45 213.17 L1079.30 212.80 L1082.14 212.44 L1084.99 212.08 L1087.84 211.73 L1090.68 211.37 L1093.53 211.02 L1096.38 210.67 L1099.22 210.32 L1102.07 209.97 L1104.91 209.63 L1107.76 209.28 L1110.61 208.94 L1113.45 208.60 L1116.30 208.27 L1119.15 207.93 L1121.99 207.60 L1124.84 207.27 L1127.69 206.94 L1130.53 206.61 L1133.38 206.28 L1136.22 205.96 L1139.07 205.64 L1141.92 205.32 L1144.76 205.00 L1147.61 204.68 L1150.46 204.36 L1153.30 204.05 L1156.15 203.74 L1159.00 203.43 L1161.84 203.12 L1164.69 202.81 L1167.54 202.51 L1170.38 202.20 L1173.23 201.90 L1176.08 201.60 L1178.92 201.30 L1181.77 201.00 L1184.61 200.70 L1187.46 200.41 L1190.31 200.12 L1193.15 199.83 L1196.00 199.53 L1198.85 199.25 L1201.69 198.96 L1204.54 198.67 L1207.39 198.39 L1210.23 198.11 L1213.08 197.82 L1215.93 197.54 L1218.77 197.26 L1221.62 196.99 L1224.46 196.71 L1227.31 196.44 L1230.16 196.16 L1233.00 195.89 L1235.85 195.62 L1238.70 195.35 L1241.54 195.08 L1244.39 194.82 L1247.24 194.55 L1250.08 194.29 L1252.93 194.02 L1255.78 193.76 L1258.62 193.50 L1261.47 193.24 L1264.31 192.98 L1267.16 192.73 L1270.01 192.47 L1272.85 192.22 L1275.70 191.96 L1278.55 191.71 L1281.39 191.46 L1284.24 191.21 L1287.09 190.96 L1289.93 190.71 L1292.78 190.47 L1295.62 190.22 L1298.47 189.98 L1301.32 189.73 L1304.16 189.49 L1307.01 189.25 L1309.86 189.01 L1312.70 188.77 L1315.55 188.53 L1318.40 188.30 L1321.24 188.06 L1324.09 187.83 L1326.94 187.59 L1329.78 187.36 L1332.63 187.13 L1335.47 186.90 L1338.32 186.67 L1341.17 186.44 L1344.01 186.21 L1346.86 185.99 L1349.71 185.76 L1352.55 185.54 L1355.40 185.31 L1358.25 185.09 L1361.09 184.87 L1363.94 184.65 L1366.79 184.43 L1369.63 184.21 L1372.48 183.99 L1375.33 183.77 L1378.17 183.56 L1381.02 183.34 L1383.86 183.13 L1386.71 182.91 L1389.56 182.70 L1392.40 182.49 L1395.25 182.28 L1398.10 182.07 L1400.94 181.86 L1403.79 181.65 L1406.64 181.44 L1409.48 181.23 L1412.33 181.03 L1415.18 180.82 L1418.02 180.62 L1420.87 180.41 L1423.71 180.21 L1426.56 180.01 L1429.41 179.81 L1432.25 179.61 L1435.10 179.41 L1437.95 179.21 L1440.79 179.01 L1443.64 178.82 L1446.49 178.62 L1449.33 178.42 L1452.18 178.23 L1455.03 178.03 L1457.87 177.84 L1460.72 177.65 L1463.56 177.46 L1466.41 177.27 L1469.26 177.07 L1472.10 176.88 L1474.95 176.70 L1477.80 176.51 L1480.64 176.32 L1483.49 176.13 L1486.34 175.95 L1489.18 175.76 L1492.03 175.58 L1494.88 175.39 L1497.72 175.21 L1500.57 175.03 L1503.41 174.84 L1506.26 174.66 L1509.11 174.48 L1511.95 174.30 L1514.80 174.12 L1517.65 173.94 L1520.49 173.77 L1523.34 173.59 L1526.19 173.41 L1529.03 173.24 L1531.88 173.06 L1534.73 172.88 L1537.57 172.71 L1540.42 172.54 L1543.26 172.36 L1546.11 172.19 L1548.96 172.02 L1551.80 171.85 L1554.65 171.68 L1557.50 171.51 L1560.34 171.34 L1563.19 171.17 L1566.04 171.00 L1568.88 170.83 L1571.73 170.67 L1574.58 170.50 L1577.42 170.33 L1580.27 170.17 L1583.11 170.00 L1585.96 169.84 L1588.81 169.68 L1591.65 169.51 L1594.50 169.35 L1597.35 169.19 L1600.19 169.03 L1603.04 168.87 L1605.89 168.71 L1608.73 168.55 L1611.58 168.39 L1614.42 168.23 L1617.27 168.07 L1620.12 167.91 L1622.96 167.76 L1625.81 167.60 L1628.66 167.44 L1631.50 167.29 L1634.35 167.13 L1637.20 166.98 L1640.04 166.82 L1642.89 166.67 L1645.74 166.52 L1648.58 166.37 L1651.43 166.21 L1654.28 166.06 L1657.12 165.91 L1659.97 165.76 L1662.81 165.61 L1665.66 165.46 L1668.51 165.31 L1671.35 165.16 L1674.20 165.02 L1677.05 164.87 L1679.89 164.72 L1682.74 164.57 L1685.59 164.43 L1688.43 164.28 L1691.28 164.14 L1694.12 163.99 L1696.97 163.85 L1699.82 163.70 L1702.66 163.56 L1705.51 163.42 L1708.36 163.27 L1711.20 163.13 L1714.05 162.99 L1716.90 162.85 L1719.74 162.71 L1722.59 162.57 L1725.44 162.43 L1728.28 162.29 L1731.13 162.15 L1733.98 162.01 L1736.82 161.87 L1739.67 161.74 L1742.51 161.60 L1745.36 161.46 L1748.21 161.32 L1751.05 161.19 L1753.90 161.05 L1756.75 160.92 L1759.59 160.78 L1762.44 160.65 L1765.29 160.51 L1768.13 160.38 L1770.98 160.25 L1773.83 160.11 L1776.67 159.98 L1779.52 159.85 L1782.36 159.72 L1785.21 159.59 L1788.06 159.46 L1790.90 159.33 L1793.75 159.20 L1796.60 159.07 L1799.44 158.94 L1802.29 158.81 L1805.14 158.68 L1807.98 158.55 L1810.83 158.42 L1813.67 158.29 L1816.52 158.17 L1819.37 158.04 L1822.21 157.91 L1825.06 157.79 L1827.91 157.66 L1830.75 157.54 L1833.60 157.41 L1836.45 157.29 L1839.29 157.16 L1842.14 157.04 L1844.99 156.92 L1847.83 156.79 L1850.68 156.67 L1853.53 156.55 L1856.37 156.43 L1859.22 156.30 L1862.06 156.18 L1864.91 156.06 L1867.76 155.94 L1870.60 155.82 L1873.45 155.70 L1876.30 155.58 L1879.14 155.46 L1881.99 155.34 L1884.84 155.22 L1887.68 155.10 L1890.53 154.99 L1893.38 154.87 L1896.22 154.75 L1899.07 154.63 L1901.91 154.52 L1904.76 154.40 L1907.61 154.28 L1910.45 154.17 L1913.30 154.05 L1916.15 153.94 L1918.99 153.82 L1921.84 153.71 L1924.69 153.59 L1927.53 153.48 L1930.38 153.37 L1933.23 153.25 L1936.07 153.14 L1938.92 153.03 L1941.76 152.91 L1944.61 152.80 L1947.46 152.69 L1950.30 152.58 L1953.15 152.47 L1956.00 152.36 L1958.84 152.24 L1961.69 152.13 L1964.54 152.02 L1967.38 151.91 L1970.23 151.80 L1973.08 151.70 L1975.92 151.59 L1978.77 151.48 L1981.61 151.37 L1984.46 151.26 L1987.31 151.15 L1990.15 151.05 L1993.00 150.94 L1995.85 150.83 L1998.69 150.72 L2001.54 150.62 L2004.39 150.51 L2007.23 150.41 L2010.08 150.30 L2012.92 150.19 L2015.77 150.09 L2018.62 149.98 L2021.46 149.88 L2024.31 149.78 L2027.16 149.67 L2030.00 149.57 L2032.85 149.46 L2035.70 149.36 L2038.54 149.26 L2041.39 149.15 L2044.24 149.05 L2047.08 148.95 L2049.93 148.85 L2052.78 148.75 L2055.62 148.64 L2058.47 148.54 L2061.31 148.44 L2064.16 148.34 L2067.01 148.24 L2069.85 148.14 L2072.70 148.04 L2075.55 147.94 L2078.39 147.84 L2081.24 147.74 L2084.09 147.64 L2086.93 147.54 L2089.78 147.45 L2092.62 147.35 L2095.47 147.25 L2098.32 147.15 L2101.16 147.05 L2104.01 146.96 L2106.86 146.86 L2109.70 146.76 L2112.55 146.67 L2115.40 146.57 L2118.24 146.47 L2121.09 146.38 L2123.94 146.28 L2126.78 146.19 L2129.63 146.09 L2132.48 146.00 L2135.32 145.90 L2138.17 145.81 L2141.01 145.71 L2143.86 145.62 L2146.71 145.52 L2149.55 145.43 L2152.40 145.34 L2155.25 145.24 L2158.09 145.15 L2160.94 145.06 L2163.79 144.96 L2166.63 144.87 L2169.48 144.78 L2172.32 144.69 L2175.17 144.60 L2178.02 144.50 L2180.86 144.41 L2183.71 144.32 L2186.56 144.23 L2189.40 144.14 L2192.25 144.05 L2195.10 143.96 L2197.94 143.87 L2200.79 143.78 L2203.64 143.69 L2206.48 143.60 L2209.33 143.51 L2212.18 143.42 L2215.02 143.33 L2217.87 143.24 L2220.71 143.16 L2223.56 143.07 L2226.41 142.98 L2229.25 142.89 L2232.10 142.80 L2234.95 142.72 L2237.79 142.63 L2240.64 142.54 L2243.49 142.46 L2246.33 142.37 L2249.18 142.28 L2252.03 142.20 L2254.87 142.11 L2257.72 142.02 L2260.56 141.94 L2263.41 141.85 L2266.26 141.77 L2269.10 141.68 L2271.95 141.60 L2274.80 141.51 L2277.64 141.43 L2280.49 141.34 L2283.34 141.26 L2286.18 141.17 L2289.03 141.09 L2291.88 141.01 L2294.72 140.92 L2297.57 140.84 L2300.41 140.76 L2303.26 140.67 L2306.11 140.59 L2308.95 140.51 L2311.80 140.43 L2314.65 140.34 L2317.49 140.26 L2320.34 140.18 L2323.19 140.10 L2326.03 140.02 L2328.88 139.94 L2331.73 139.85 L2334.57 139.77 L2337.42 139.69 L2340.26 139.61 L2343.11 139.53 L2345.96 139.45 L2348.80 139.37 L2351.65 139.29 L2354.50 139.21 L2357.34 139.13 L2360.19 139.05 L2363.04 138.97 L2365.88 138.89 L2368.73 138.81 L2371.57 138.74 L2374.42 138.66 L2377.27 138.58 L2380.11 138.50 L2382.96 138.42 L2385.81 138.34 L2388.65 138.27 L2391.50 138.19 L2394.35 138.11 L2397.19 138.03 L2400.04 137.96 L2402.89 137.88 L2405.73 137.80 L2408.58 137.73 L2411.43 137.65 L2414.27 137.57 L2417.12 137.50 L2419.96 137.42 L2422.81 137.34 L2425.66 137.27 L2428.50 137.19 L2431.35 137.12 L2434.20 137.04 L2437.04 136.97 L2439.89 136.89 L2442.74 136.82 L2445.58 136.74 L2448.43 136.67 L2451.28 136.59 L2454.12 136.52 L2456.97 136.44 L2459.81 136.37 L2462.66 136.30 L2465.51 136.22 L2468.35 136.15 L2471.20 136.08 L2474.05 136.00 L2476.89 135.93 L2479.74 135.86 L2482.59 135.78 L2485.43 135.71 L2488.28 135.64 L2491.12 135.57 L2493.97 135.49 L2496.82 135.42 L2499.66 135.35 L2502.51 135.28 L2505.36 135.21"/>
<path id="c3" stroke-dasharray="20.9 5.8 7.5 5.8" stroke-dashoffset="0" d="M399.00 1227.50 L401.85 1222.42 L404.69 1207.49 L407.54 1183.17 L410.39 1149.93 L413.23 1108.23 L416.08 1058.54 L418.93 1001.33 L421.77 937.05 L424.62 877.56 L427.46 829.95 L430.31 789.98 L433.16 755.50 L436.00 725.19 L438.85 698.20 L441.70 673.90 L444.54 651.85 L447.39 631.71 L450.24 613.21 L453.08 596.13 L455.93 580.30 L458.77 565.57 L461.62 551.82 L464.47 538.95 L467.31 526.87 L470.16 515.51 L473.01 504.79 L475.85 494.67 L478.70 485.09 L481.55 476.00 L484.39 467.38 L487.24 459.17 L490.09 451.35 L492.93 443.90 L495.78 436.78 L498.62 429.98 L501.47 423.47 L504.32 417.23 L507.16 411.25 L510.01 405.51 L512.86 399.99 L515.70 394.69 L518.55 389.59 L521.40 384.67 L524.24 379.93 L527.09 375.37 L529.94 370.96 L532.78 366.70 L535.63 362.58 L538.48 358.60 L541.32 354.75 L544.17 351.02 L547.01 347.41 L549.86 343.91 L552.71 340.52 L555.55 337.23 L558.40 334.04 L561.25 330.94 L564.09 327.92 L566.94 324.99 L569.79 322.15 L572.63 319.38 L575.48 316.68 L578.33 314.06 L581.17 311.51 L584.02 309.02 L586.86 306.60 L589.71 304.23 L592.56 301.93 L595.40 299.68 L598.25 297.49 L601.10 295.35 L603.94 293.26 L606.79 291.22 L609.64 289.22 L612.48 287.27 L615.33 285.37 L618.17 283.51 L621.02 281.69 L623.87 279.91 L626.71 278.16 L629.56 276.46 L632.41 274.79 L635.25 273.16 L638.10 271.56 L640.95 269.99 L643.79 268.45 L646.64 266.95 L649.49 265.47 L652.33 264.02 L655.18 262.61 L658.03 261.22 L660.87 259.85 L663.72 258.51 L666.56 257.20 L669.41 255.91 L672.26 254.64 L675.10 253.40 L677.95 252.18 L680.80 250.98 L683.64 249.81 L686.49 248.65 L689.34 247.51 L692.18 246.40 L695.03 245.30 L697.88 244.22 L700.72 243.16 L703.57 242.11 L706.41 241.09 L709.26 240.08 L712.11 239.09 L714.95 238.11 L717.80 237.15 L720.65 236.20 L723.49 235.27 L726.34 234.35 L729.19 233.45 L732.03 232.56 L734.88 231.69 L737.73 230.83 L740.57 229.98 L743.42 229.14 L746.26 228.32 L749.11 227.50 L751.96 226.70 L754.80 225.92 L757.65 225.14 L760.50 224.37 L763.34 223.62 L766.19 222.87 L769.04 222.14 L771.88 221.41 L774.73 220.70 L777.58 220.00 L780.42 219.30 L783.27 218.62 L786.11 217.94 L788.96 217.27 L791.81 216.61 L794.65 215.96 L797.50 215.32 L800.35 214.69 L803.19 214.07 L806.04 213.45 L808.89 212.84 L811.73 212.24 L814.58 211.64 L817.42 211.06 L820.27 210.48 L823.12 209.91 L825.96 209.34 L828.81 208.78 L831.66 208.23 L834.50 207.69 L837.35 207.15 L840.20 206.62 L843.04 206.09 L845.89 205.57 L848.74 205.06 L851.58 204.55 L854.43 204.05 L857.28 203.56 L860.12 203.06 L862.97 202.58 L865.81 202.10 L868.66 201.63 L871.51 201.16 L874.35 200.70 L877.20 200.24 L880.05 199.78 L882.89 199.34 L885.74 198.89 L888.59 198.45 L891.43 198.02 L894.28 197.59 L897.12 197.17 L899.97 196.75 L902.82 196.33 L905.66 195.92 L908.51 195.51 L911.36 195.11 L914.20 194.71 L917.05 194.31 L919.90 193.92 L922.74 193.54 L925.59 193.15 L928.44 192.78 L931.28 192.40 L934.13 192.03 L936.98 191.66 L939.82 191.30 L942.67 190.94 L945.51 190.58 L948.36 190.22 L951.21 189.87 L954.05 189.53 L956.90 189.18 L959.75 188.84 L962.59 188.51 L965.44 188.17 L968.29 187.84 L971.13 187.51 L973.98 187.19 L976.83 186.87 L979.67 186.55 L982.52 186.23 L985.36 185.92 L988.21 185.61 L991.06 185.30 L993.90 185.00 L996.75 184.69 L999.60 184.39 L1002.44 184.10 L1005.29 183.80 L1008.14 183.51 L1010.98 183.22 L1013.83 182.94 L1016.68 182.65 L1019.52 182.37 L1022.37 182.09 L1025.21 181.82 L1028.06 181.54 L1030.91 181.27 L1033.75 181.00 L1036.60 180.73 L1039.45 180.47 L1042.29 180.20 L1045.14 179.94 L1047.99 179.69 L1050.83 179.43 L1053.68 179.17 L1056.53 178.92 L1059.37 178.67 L1062.22 178.42 L1065.06 178.18 L1067.91 177.93 L1070.76 177.69 L1073.60 177.45 L1076.45 177.21 L1079.30 176.98 L1082.14 176.74 L1084.99 176.51 L1087.84 176.28 L1090.68 176.05 L1093.53 175.82 L1096.38 175.60 L1099.22 175.37 L1102.07 175.15 L1104.91 174.93 L1107.76 174.71 L1110.61 174.49 L1113.45 174.28 L1116.30 174.06 L1119.15 173.85 L1121.99 173.64 L1124.84 173.43 L1127.69 173.22 L1130.53 173.02 L1133.38 172.81 L1136.22 172.61 L1139.07 172.41 L1141.92 172.21 L1144.76 172.01 L1147.61 171.81 L1150.46 171.62 L1153.30 171.42 L1156.15 171.23 L1159.00 171.04 L1161.84 170.85 L1164.69 170.66 L1167.54 170.47 L1170.38 170.28 L1173.23 170.10 L1176.08 169.92 L1178.92 169.73 L1181.77 169.55 L1184.61 169.37 L1187.46 169.19 L1190.31 169.02 L1193.15 168.84 L1196.00 168.67 L1198.85 168.49 L1201.69 168.32 L1204.54 168.15 L1207.39 167.98 L1210.23 167.81 L1213.08 167.64 L1215.93 167.47 L1218.77 167.31 L1221.62 167.14 L1224.46 166.98 L1227.31 166.82 L1230.16 166.65 L1233.00 166.49 L1235.85 166.33 L1238.70 166.18 L1241.54 166.02 L1244.39 165.86 L1247.24 165.71 L1250.08 165.55 L1252.93 165.40 L1255.78 165.25 L1258.62 165.09 L1261.47 164.94 L1264.31 164.79 L1267.16 164.65 L1270.01 164.50 L1272.85 164.35 L1275.70 164.21 L1278.55 164.06 L1281.39 163.92 L1284.24 163.77 L1287.09 163.63 L1289.93 163.49 L1292.78 163.35 L1295.62 163.21 L1298.47 163.07 L1301.32 162.93 L1304.16 162.80 L1307.01 162.66 L1309.86 162.52 L1312.70 162.39 L1315.55 162.26 L1318.40 162.12 L1321.24 161.99 L1324.09 161.86 L1326.94 161.73 L1329.78 161.60 L1332.63 161.47 L1335.47 161.34 L1338.32 161.21 L1341.17 161.08 L1344.01 160.96 L1346.86 160.83 L1349.71 160.71 L1352.55 160.58 L1355.40 160.46 L1358.25 160.34 L1361.09 160.22 L1363.94 160.09 L1366.79 159.97 L1369.63 159.85 L1372.48 159.73 L1375.33 159.62 L1378.17 159.50 L1381.02 159.38 L1383.86 159.26 L1386.71 159.15 L1389.56 159.03 L1392.40 158.92 L1395.25 158.80 L1398.10 158.69 L1400.94 158.58 L1403.79 158.46 L1406.64 158.35 L1409.48 158.24 L1412.33 158.13 L1415.18 158.02 L1418.02 157.91 L1420.87 157.80 L1423.71 157.70 L1426.56 157.59 L1429.41 157.48 L1432.25 157.38 L1435.10 157.27 L1437.95 157.16 L1440.79 157.06 L1443.64 156.96 L1446.49 156.85 L1449.33 156.75 L1452.18 156.65 L1455.03 156.54 L1457.87 156.44 L1460.72 156.34 L1463.56 156.24 L1466.41 156.14 L1469.26 156.04 L1472.10 155.94 L1474.95 155.85 L1477.80 155.75 L1480.64 155.65 L1483.49 155.55 L1486.34 155.46 L1489.18 155.36 L1492.03 155.27 L1494.88 155.17 L1497.72 155.08 L1500.57 154.98 L1503.41 154.89 L1506.26 154.80 L1509.11 154.70 L1511.95 154.61 L1514.80 154.52 L1517.65 154.43 L1520.49 154.34 L1523.34 154.25 L1526.19 154.16 L1529.03 154.07 L1531.88 153.98 L1534.73 153.89 L1537.57 153.80 L1540.42 153.71 L1543.26 153.63 L1546.11 153.54 L1548.96 153.45 L1551.80 153.37 L1554.65 153.28 L1557.50 153.20 L1560.34 153.11 L1563.19 153.03 L1566.04 152.94 L1568.88 152.86 L1571.73 152.78 L1574.58 152.69 L1577.42 152.61 L1580.27 152.53 L1583.11 152.45 L1585.96 152.36 L1588.81 152.28 L1591.65 152.20 L1594.50 152.12 L1597.35 152.04 L1600.19 151.96 L1603.04 151.88 L1605.89 151.81 L1608.73 151.73 L1611.58 151.65 L1614.42 151.57 L1617.27 151.49 L1620.12 151.42 L1622.96 151.34 L1625.81 151.26 L1628.66 151.19 L1631.50 151.11 L1634.35 151.04 L1637.20 150.96 L1640.04 150.89 L1642.89 150.81 L1645.74 150.74 L1648.58 150.67 L1651.43 150.59 L1654.28 150.52 L1657.12 150.45 L1659.97 150.37 L1662.81 150.30 L1665.66 150.23 L1668.51 150.16 L1671.35 150.09 L1674.20 150.02 L1677.05 149.95 L1679.89 149.88 L1682.74 149.81 L1685.59 149.74 L1688.43 149.67 L1691.28 149.60 L1694.12 149.53 L1696.97 149.46 L1699.82 149.39 L1702.66 149.33 L1705.51 149.26 L1708.36 149.19 L1711.20 149.12 L1714.05 149.06 L1716.90 148.99 L1719.74 148.93 L1722.59 148.86 L1725.44 148.79 L1728.28 148.73 L1731.13 148.66 L1733.98 148.60 L1736.82 148.53 L1739.67 148.47 L1742.51 148.41 L1745.36 148.34 L1748.21 148.28 L1751.05 148.22 L1753.90 148.15 L1756.75 148.09 L1759.59 148.03 L1762.44 147.97 L1765.29 147.90 L1768.13 147.84 L1770.98 147.78 L1773.83 147.72 L1776.67 147.66 L1779.52 147.60 L1782.36 147.54 L1785.21 147.48 L1788.06 147.42 L1790.90 147.36 L1793.75 147.30 L1796.60 147.24 L1799.44 147.18 L1802.29 147.12 L1805.14 147.06 L1807.98 147.00 L1810.83 146.95 L1813.67 146.89 L1816.52 146.83 L1819.37 146.77 L1822.21 146.72 L1825.06 146.66 L1827.91 146.60 L1830.75 146.55 L1833.60 146.49 L1836.45 146.43 L1839.29 146.38 L1842.14 146.32 L1844.99 146.27 L1847.83 146.21 L1850.68 146.16 L1853.53 146.10 L1856.37 146.05 L1859.22 145.99 L1862.06 145.94 L1864.91 145.88 L1867.76 145.83 L1870.60 145.78 L1873.45 145.72 L1876.30 145.67 L1879.14 145.62 L1881.99 145.56 L1884.84 145.51 L1887.68 145.46 L1890.53 145.41 L1893.38 145.36 L1896.22 145.30 L1899.07 145.25 L1901.91 145.20 L1904.76 145.15 L1907.61 145.10 L1910.45 145.05 L1913.30 145.00 L1916.15 144.95 L1918.99 144.90 L1921.84 144.85 L1924.69 144.80 L1927.53 144.75 L1930.38 144.70 L1933.23 144.65 L1936.07 144.60 L1938.92 144.55 L1941.76 144.50 L1944.61 144.45 L1947.46 144.40 L1950.30 144.35 L1953.15 144.31 L1956.00 144.26 L1958.84 144.21 L1961.69 144.16 L1964.54 144.12 L1967.38 144.07 L1970.23 144.02 L1973.08 143.97 L1975.92 143.93 L1978.77 143.88 L1981.61 143.83 L1984.46 143.79 L1987.31 143.74 L1990.15 143.70 L1993.00 143.65 L1995.85 143.60 L1998.69 143.56 L2001.54 143.51 L2004.39 143.47 L2007.23 143.42 L2010.08 143.38 L2012.92 143.33 L2015.77 143.29 L2018.62 143.24 L2021.46 143.20 L2024.31 143.16 L2027.16 143.11 L2030.00 143.07 L2032.85 143.02 L2035.70 142.98 L2038.54 142.94 L2041.39 142.89 L2044.24 142.85 L2047.08 142.81 L2049.93 142.77 L2052.78 142.72 L2055.62 142.68 L2058.47 142.64 L2061.31 142.60 L2064.16 142.55 L2067.01 142.51 L2069.85 142.47 L2072.70 142.43 L2075.55 142.39 L2078.39 142.35 L2081.24 142.30 L2084.09 142.26 L2086.93 142.22 L2089.78 142.18 L2092.62 142.14 L2095.47 142.10 L2098.32 142.06 L2101.16 142.02 L2104.01 141.98 L2106.86 141.94 L2109.70 141.90 L2112.55 141.86 L2115.40 141.82 L2118.24 141.78 L2121.09 141.74 L2123.94 141.70 L2126.78 141.66 L2129.63 141.62 L2132.48 141.58 L2135.32 141.55 L2138.17 141.51 L2141.01 141.47 L2143.86 141.43 L2146.71 141.39 L2149.55 141.35 L2152.40 141.31 L2155.25 141.28 L2158.09 141.24 L2160.94 141.20 L2163.79 141.16 L2166.63 141.13 L2169.48 141.09 L2172.32 141.05 L2175.17 141.01 L2178.02 140.98 L2180.86 140.94 L2183.71 140.90 L2186.56 140.87 L2189.40 140.83 L2192.25 140.79 L2195.10 140.76 L2197.94 140.72 L2200.79 140.69 L2203.64 140.65 L2206.48 140.61 L2209.33 140.58 L2212.18 140.54 L2215.02 140.51 L2217.87 140.47 L2220.71 140.44 L2223.56 140.40 L2226.41 140.37 L2229.25 140.33 L2232.10 140.30 L2234.95 140.26 L2237.79 140.23 L2240.64 140.19 L2243.49 140.16 L2246.33 140.12 L2249.18 140.09 L2252.03 140.06 L2254.87 140.02 L2257.72 139.99 L2260.56 139.95 L2263.41 139.92 L2266.26 139.89 L2269.10 139.85 L2271.95 139.82 L2274.80 139.79 L2277.64 139.75 L2280.49 139.72 L2283.34 139.69 L2286.18 139.65 L2289.03 139.62 L2291.88 139.59 L2294.72 139.55 L2297.57 139.52 L2300.41 139.49 L2303.26 139.46 L2306.11 139.43 L2308.95 139.39 L2311.80 139.36 L2314.65 139.36 L2317.49 139.36 L2320.34 139.36 L2323.19 139.36 L2326.03 139.36 L2328.88 139.36 L2331.73 139.36 L2334.57 139.36 L2337.42 139.36 L2340.26 139.36 L2343.11 139.36 L2345.96 139.36 L2348.80 139.36 L2351.65 139.36 L2354.50 139.36 L2357.34 139.36 L2360.19 139.36 L2363.04 139.36 L2365.88 139.36 L2368.73 139.36 L2371.57 139.36 L2374.42 139.36 L2377.27 139.36 L2380.11 139.36 L2382.96 139.36 L2385.81 139.36 L2388.65 139.36 L2391.50 139.36 L2394.35 139.36 L2397.19 139.36 L2400.04 139.36 L2402.89 139.36 L2405.73 139.36 L2408.58 139.36 L2411.43 139.36 L2414.27 139.36 L2417.12 139.36 L2419.96 139.36 L2422.81 139.36 L2425.66 139.36 L2428.50 139.36 L2431.35 139.36 L2434.20 139.36 L2437.04 139.36 L2439.89 139.36 L2442.74 139.36 L2445.58 139.36 L2448.43 139.36 L2451.28 139.36 L2454.12 139.36 L2456.97 139.36 L2459.81 139.36 L2462.66 139.36 L2465.51 139.36 L2468.35 139.36 L2471.20 139.36 L2474.05 139.36 L2476.89 139.36 L2479.74 139.36 L2482.59 139.36 L2485.43 139.36 L2488.28 139.36 L2491.12 139.36 L2493.97 139.36 L2496.82 139.36 L2499.66 139.36 L2502.51 139.36 L2505.36 139.36"/>
</g>
<rect x="342.5" y="16.5" width="2106.0" height="1261.5" fill="none" stroke="#000" stroke-width="5.1"/>
<path d="M339.95 1278.0 H2451.05" stroke="#000" stroke-width="5.7"/>
<g stroke="#000" stroke-width="7.4">
<path d="M399.00 1278.0 V1307.8"/>
<path d="M683.64 1278.0 V1307.8"/>
<path d="M968.29 1278.0 V1307.8"/>
<path d="M1252.93 1278.0 V1307.8"/>
<path d="M1537.57 1278.0 V1307.8"/>
<path d="M1822.21 1278.0 V1307.8"/>
<path d="M2106.86 1278.0 V1307.8"/>
<path d="M2391.50 1278.0 V1307.8"/>
<path d="M342.5 1227.50 H312"/>
<path d="M342.5 975.15 H312"/>
<path d="M342.5 722.80 H312"/>
<path d="M342.5 470.45 H312"/>
<path d="M342.5 218.10 H312"/>
</g>
<g font-size="69">
<text x="399.00" y="1383.7" text-anchor="middle" textLength="33.9" lengthAdjust="spacingAndGlyphs">0</text>
<text x="683.64" y="1383.7" text-anchor="middle" textLength="101.7" lengthAdjust="spacingAndGlyphs">100</text>
<text x="968.29" y="1383.7" text-anchor="middle" textLength="101.7" lengthAdjust="spacingAndGlyphs">200</text>
<text x="1252.93" y="1383.7" text-anchor="middle" textLength="101.7" lengthAdjust="spacingAndGlyphs">300</text>
<text x="1537.57" y="1383.7" text-anchor="middle" textLength="101.7" lengthAdjust="spacingAndGlyphs">400</text>
<text x="1822.21" y="1383.7" text-anchor="middle" textLength="101.7" lengthAdjust="spacingAndGlyphs">500</text>
<text x="2106.86" y="1383.7" text-anchor="middle" textLength="101.7" lengthAdjust="spacingAndGlyphs">600</text>
<text x="2391.50" y="1383.7" text-anchor="middle" textLength="101.7" lengthAdjust="spacingAndGlyphs">700</text>
<text x="284.7" y="1250.90" text-anchor="end" textLength="33.6" lengthAdjust="spacingAndGlyphs">0</text>
<text x="284.7" y="998.55" text-anchor="end" textLength="134.6" lengthAdjust="spacingAndGlyphs">5000</text>
<text x="284.7" y="746.20" text-anchor="end" textLength="168.2" lengthAdjust="spacingAndGlyphs">10000</text>
<text x="284.7" y="493.85" text-anchor="end" textLength="168.2" lengthAdjust="spacingAndGlyphs">15000</text>
<text x="284.7" y="241.50" text-anchor="end" textLength="168.2" lengthAdjust="spacingAndGlyphs">20000</text>
</g>
<text y="960.10" style="white-space:pre"><tspan x="1846.60" font-size="69.8" textLength="395.58" lengthAdjust="spacingAndGlyphs">Experimental</tspan><tspan font-size="69.8"> </tspan><tspan x="2257.85" font-size="69.8" textLength="127.92" lengthAdjust="spacingAndGlyphs">data</tspan></text>
<text y="1039.70" style="white-space:pre"><tspan x="1843.35" font-size="69.8" textLength="178.62" lengthAdjust="spacingAndGlyphs">SCDP</tspan><tspan font-size="69.8"> </tspan><tspan x="2036.20" font-size="69.8" textLength="187.50" lengthAdjust="spacingAndGlyphs">model</tspan></text>
<text y="1119.60" style="white-space:pre"><tspan x="1843.10" font-size="69.8" textLength="287.77" lengthAdjust="spacingAndGlyphs">Schädlich</tspan><tspan font-size="69.8"> </tspan><tspan x="2146.20" font-size="69.8" textLength="187.50" lengthAdjust="spacingAndGlyphs">model</tspan></text>
<text y="1198.60" style="white-space:pre"><tspan x="1846.10" font-size="69.8" textLength="261.63" lengthAdjust="spacingAndGlyphs">Meschke</tspan><tspan font-size="69.8"> </tspan><tspan x="2122.20" font-size="69.8" textLength="187.50" lengthAdjust="spacingAndGlyphs">model</tspan></text>
<text y="1483.00" style="white-space:pre"><tspan x="1333.69" font-size="74.0" font-style="italic" textLength="20.08" lengthAdjust="spacingAndGlyphs">t</tspan><tspan font-size="69.8"> </tspan><tspan x="1375.00" font-size="69.8" textLength="79.91" lengthAdjust="spacingAndGlyphs">(h)</tspan></text>
<text transform="translate(65.80 0) rotate(-90)" style="white-space:pre"><tspan x="-762.75" font-size="69.8" font-style="italic" textLength="34.85" lengthAdjust="spacingAndGlyphs">E</tspan><tspan font-size="69.8"> </tspan><tspan x="-706.30" font-size="69.8" textLength="177.41" lengthAdjust="spacingAndGlyphs">(MPa)</tspan></text>
<circle cx="1727.4" cy="937.1" r="16.65" stroke="#555555" stroke-width="5" fill="none"/>
<g stroke="#000" stroke-width="8.33" fill="none">
<path stroke-linecap="square" d="M1661 1016.9 H1794"/>
<path stroke-dasharray="21.0 12.33" d="M1660.3 1096 H1794.6"/>
<path stroke-dasharray="20.9 5.8 7.5 5.8" d="M1660.3 1176 H1794.6"/>
</g>
</svg></body></html>
